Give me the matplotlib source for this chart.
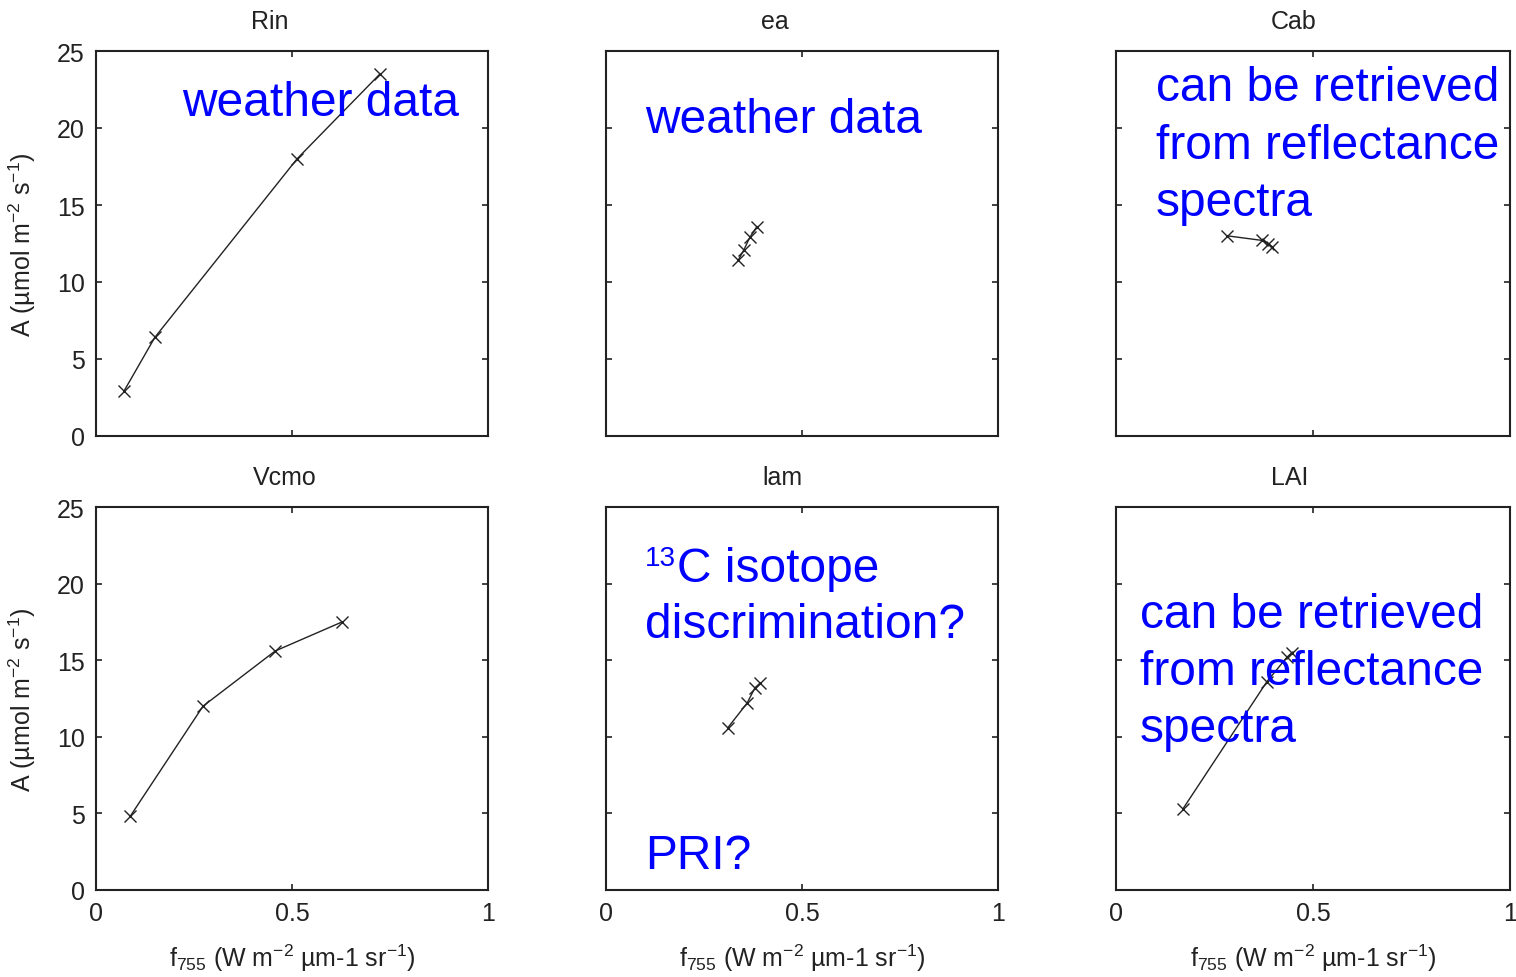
import matplotlib
matplotlib.use("Agg")
import matplotlib.pyplot as plt

plt.rcParams['font.family'] = ['Liberation Sans', 'DejaVu Sans']
plt.rcParams['mathtext.fontset'] = 'custom'
plt.rcParams['mathtext.rm'] = 'Liberation Sans'
plt.rcParams['mathtext.it'] = 'Liberation Sans'
plt.rcParams['mathtext.bf'] = 'Liberation Sans'

# panel names (subplot titles)
names = ["Rin", "ea", "Cab", "Vcmo", "lam", "LAI"]

# f755 values
f755_rin = [0.071, 0.150, 0.513, 0.724]
f755_ea = [0.337, 0.352, 0.367, 0.385]
f755_cab = [0.282, 0.371, 0.386, 0.396]
f755_vcmo = [0.087, 0.273, 0.457, 0.628]
f755_lam = [0.311, 0.360, 0.380, 0.393]
f755_lai = [0.170, 0.383, 0.434, 0.447]

# photosynthesis A values
a_rin = [2.9, 6.4, 18.0, 23.5]
a_ea = [11.4, 12.1, 12.9, 13.6]
a_cab = [13.0, 12.7, 12.5, 12.3]
a_vcmo = [4.8, 12.0, 15.6, 17.5]
a_lam = [10.6, 12.2, 13.2, 13.5]
a_lai = [5.3, 13.6, 15.2, 15.5]

xs = [f755_rin, f755_ea, f755_cab, f755_vcmo, f755_lam, f755_lai]
ys = [a_rin, a_ea, a_cab, a_vcmo, a_lam, a_lai]

# blue notes: (x, baseline y of each line) in data units, and text lines
notes = [
    (0.219, [20.84], ["weather data"]),
    (0.0995, [19.74], ["weather data"]),
    (0.1015, [21.8, 18.05, 14.35], ["can be retrieved", "from reflectance", "spectra"]),
    (None, [], []),
    (0.0995, [16.5, 1.45], ["discrimination?", "PRI?"]),
    (0.061, [17.17, 13.45, 9.73], ["can be retrieved", "from reflectance", "spectra"]),
]

title_x = [0.444, 0.431, 0.452, 0.482, 0.449, 0.442]

W, H = 1516, 978
fig = plt.figure(figsize=(W / 100, H / 100), dpi=100)

# axes boxes in pixels: left, top, right, bottom
cols = [(96, 488), (606, 998), (1116, 1510)]
rows = [(52, 437), (508, 891)]

txt_col = '#222222'
blue = '#0000ff'
for i in range(6):
    r, c = divmod(i, 3)
    x0, x1 = cols[c]
    t0, b0 = rows[r]
    ax = fig.add_axes([x0 / W, 1 - b0 / H, (x1 - x0) / W, (b0 - t0) / H])
    ax.plot(xs[i], ys[i], '-x', color='#222222', lw=1.0, ms=8, mew=1.0)
    ax.set_xlim(0, 1)
    ax.set_ylim(0, 25)
    ax.set_xticks([0, 0.5, 1])
    ax.set_yticks([0, 5, 10, 15, 20, 25])
    ax.tick_params(direction='in', top=True, right=True, length=4, width=1.2,
                   labelsize=18, colors='#222222', labelcolor=txt_col, pad=8)
    for s in ax.spines.values():
        s.set_linewidth(1.5)
        s.set_color('#222222')
    if r == 0:
        ax.set_xticklabels([])
    else:
        ax.set_xticklabels(['0', '0.5', '1'])
        ax.set_xlabel("f$_{755}$ (W m$^{-2}$ µm-1 sr$^{-1}$)", fontsize=18,
                      color=txt_col, labelpad=12)
    if c != 0:
        ax.set_yticklabels([])
    else:
        ax.set_ylabel("A (µmol m$^{-2}$ s$^{-1}$)", fontsize=18, color=txt_col,
                      labelpad=14)
    ax.text(title_x[i], 1.06, names[i], transform=ax.transAxes, ha='center',
            va='baseline', fontsize=18, color=txt_col)
    nx, nys, lines = notes[i]
    for ny, line in zip(nys, lines):
        ax.text(nx, ny, line, ha='left', va='baseline', fontsize=34.5,
                color=blue)
    if names[i] == "lam":
        # small raised 13 before "C isotope"
        ax.text(0.0995, 21.2, "13", ha='left', va='baseline', fontsize=20,
                color=blue)
        ax.text(0.182, 20.2, "C isotope", ha='left', va='baseline',
                fontsize=34.5, color=blue)

fig.savefig("out.png", dpi=100)
